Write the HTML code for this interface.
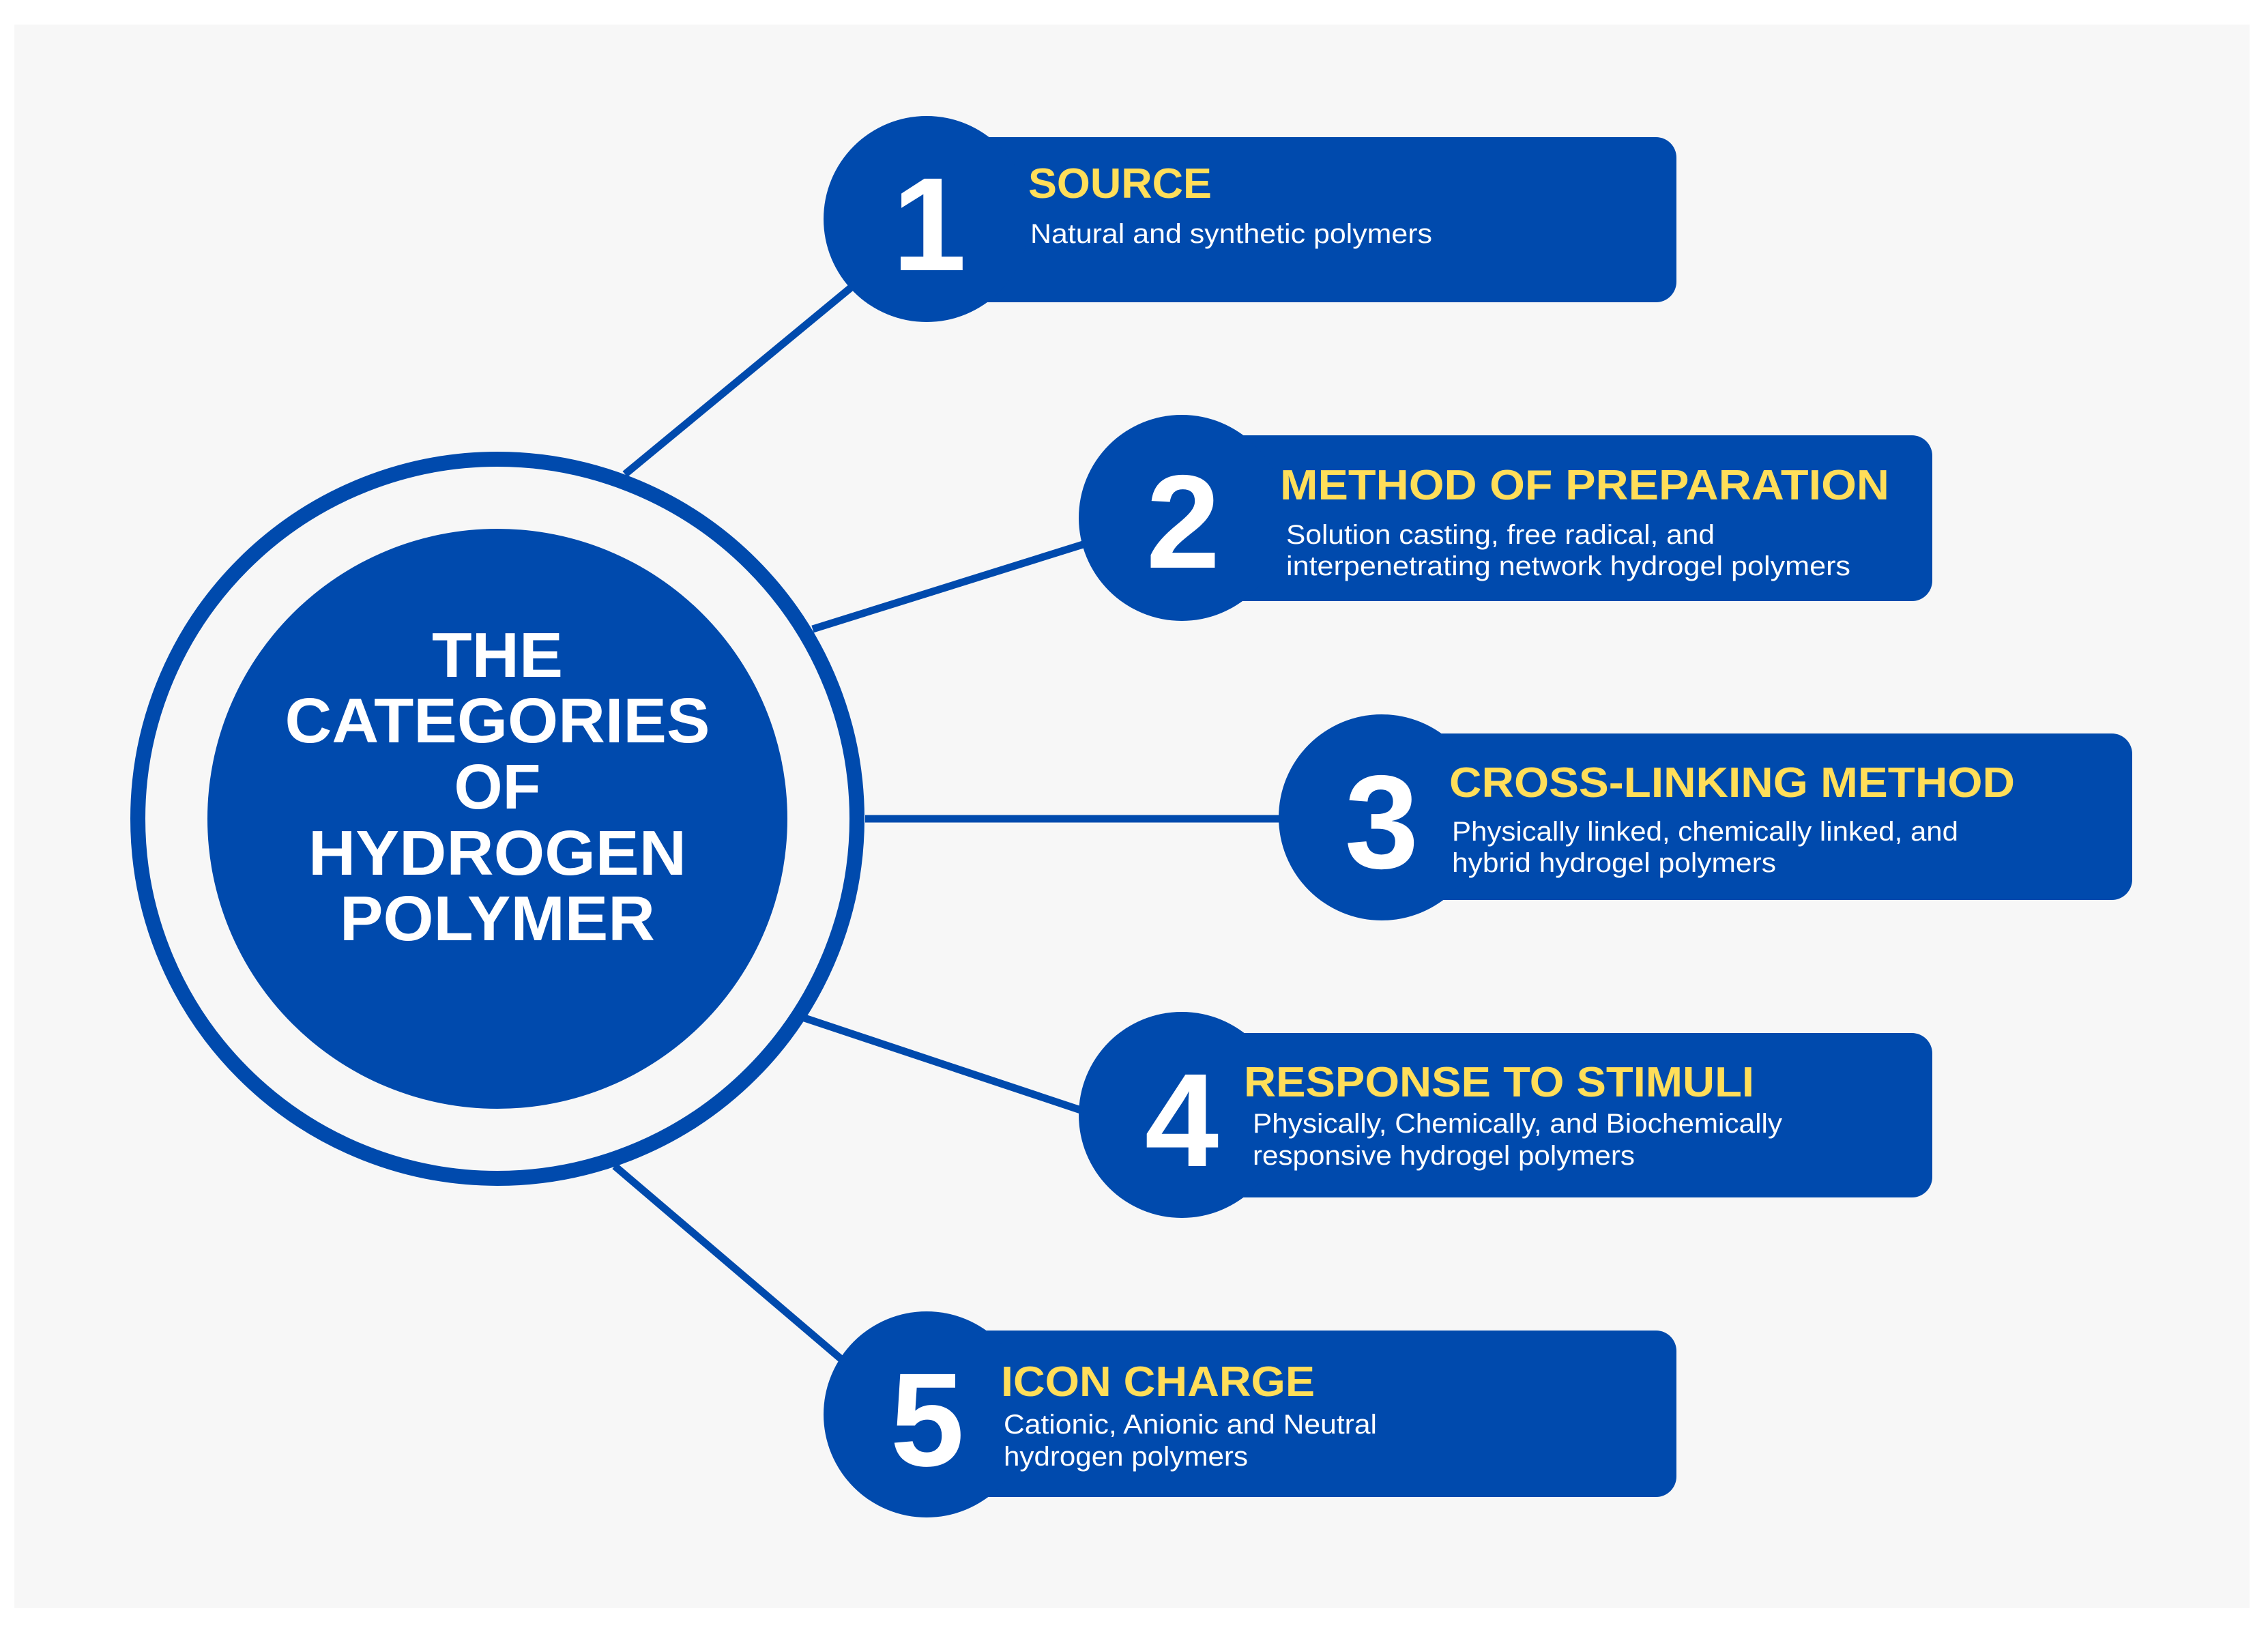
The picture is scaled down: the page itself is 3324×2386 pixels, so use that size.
<!DOCTYPE html>
<html><head><meta charset="utf-8"><style>html,body{margin:0;padding:0;background:#fff}svg{display:block}</style></head>
<body>
<svg width="3324" height="2386" viewBox="0 0 3324 2386" xmlns="http://www.w3.org/2000/svg" font-family="Liberation Sans, sans-serif">
<rect x="21" y="36" width="3276" height="2321" fill="#f7f7f7"/>
<g stroke="#004aad" stroke-width="11" stroke-linecap="butt">
<line x1="916" y1="695" x2="1255" y2="415"/>
<line x1="1191" y1="922" x2="1600" y2="794"/>
<line x1="1268" y1="1200" x2="1890" y2="1200"/>
<line x1="1179" y1="1492" x2="1596" y2="1631"/>
<line x1="901" y1="1709" x2="1240" y2="1998"/>
</g>
<circle cx="729" cy="1200" r="527" fill="none" stroke="#004aad" stroke-width="22"/>
<circle cx="729" cy="1200" r="425" fill="#004aad"/>
<g fill="#fff" font-weight="bold" font-size="93" text-anchor="middle">
<text x="729" y="992" textLength="192" lengthAdjust="spacingAndGlyphs">THE</text>
<text x="729" y="1088" textLength="623" lengthAdjust="spacingAndGlyphs">CATEGORIES</text>
<text x="729" y="1185" textLength="127" lengthAdjust="spacingAndGlyphs">OF</text>
<text x="729" y="1282" textLength="554" lengthAdjust="spacingAndGlyphs">HYDROGEN</text>
<text x="729" y="1378" textLength="462" lengthAdjust="spacingAndGlyphs">POLYMER</text>
</g>
<g fill="#004aad">
<rect x="1360" y="201" width="1097" height="242" rx="30"/>
<circle cx="1358" cy="321" r="151"/>
<rect x="1733" y="638" width="1099" height="243" rx="30"/>
<circle cx="1732" cy="759" r="151"/>
<rect x="2026" y="1075" width="1099" height="244" rx="30"/>
<circle cx="2025" cy="1198" r="151"/>
<rect x="1733" y="1514" width="1099" height="241" rx="30"/>
<circle cx="1732" cy="1634" r="151"/>
<rect x="1360" y="1950" width="1097" height="244" rx="30"/>
<circle cx="1358" cy="2073" r="151"/>
</g>
<g fill="#fff" font-weight="bold" font-size="195" text-anchor="middle">
<text x="1362" y="396">1</text>
<text x="1734" y="832">2</text>
<text x="2025" y="1272">3</text>
<text x="1732" y="1709">4</text>
<text x="1359" y="2148">5</text>
</g>
<g fill="#ffde59" font-weight="bold" font-size="62">
<text x="1507" y="290" textLength="269" lengthAdjust="spacingAndGlyphs">SOURCE</text>
<text x="1876" y="732" textLength="893" lengthAdjust="spacingAndGlyphs">METHOD OF PREPARATION</text>
<text x="2124" y="1168" textLength="829" lengthAdjust="spacingAndGlyphs">CROSS-LINKING METHOD</text>
<text x="1823" y="1607" textLength="748" lengthAdjust="spacingAndGlyphs">RESPONSE TO STIMULI</text>
<text x="1467" y="2046" textLength="460" lengthAdjust="spacingAndGlyphs">ICON CHARGE</text>
</g>
<g fill="#fff" font-size="40">
<text x="1510" y="356" textLength="589" lengthAdjust="spacingAndGlyphs">Natural and synthetic polymers</text>
<text x="1885" y="797" textLength="628" lengthAdjust="spacingAndGlyphs">Solution casting, free radical, and</text>
<text x="1885" y="843" textLength="827" lengthAdjust="spacingAndGlyphs">interpenetrating network hydrogel polymers</text>
<text x="2128" y="1232" textLength="742" lengthAdjust="spacingAndGlyphs">Physically linked, chemically linked, and</text>
<text x="2128" y="1278" textLength="475" lengthAdjust="spacingAndGlyphs">hybrid hydrogel polymers</text>
<text x="1836" y="1660" textLength="776" lengthAdjust="spacingAndGlyphs">Physically, Chemically, and Biochemically</text>
<text x="1836" y="1707" textLength="560" lengthAdjust="spacingAndGlyphs">responsive hydrogel polymers</text>
<text x="1471" y="2101" textLength="547" lengthAdjust="spacingAndGlyphs">Cationic, Anionic and Neutral</text>
<text x="1471" y="2148" textLength="358" lengthAdjust="spacingAndGlyphs">hydrogen polymers</text>
</g>
</svg>
</body></html>
